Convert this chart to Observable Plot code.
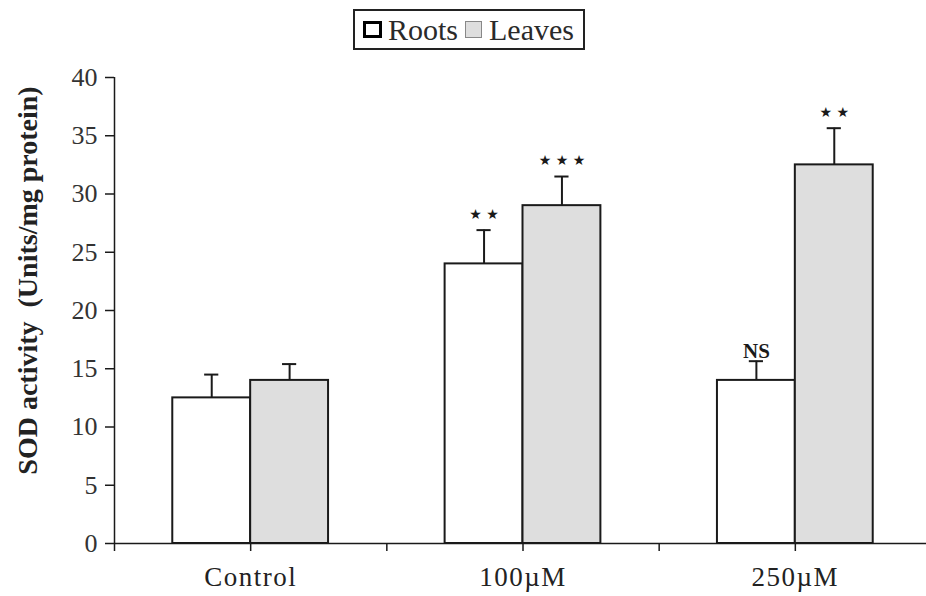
<!DOCTYPE html>
<html>
<head>
<meta charset="utf-8">
<script src="https://cdn.jsdelivr.net/npm/d3@7"></script>
<script src="https://cdn.jsdelivr.net/npm/@observablehq/plot@0.6"></script>
<style>
  html, body { margin: 0; padding: 0; background: #fff; }
  #wrap { width: 926px; }
  #legend { position: relative; width: 926px; height: 58px; }
  #legend .box {
    position: absolute; left: 353px; top: 9px; width: 228px; height: 37px;
    border: 2px solid #222; display: flex; align-items: center;
    font-family: "Liberation Serif", serif; font-size: 30px; color: #2a2a2a;
  }
  #legend .sw { display: inline-block; box-sizing: border-box; }
  #legend .roots { width: 19px; height: 17px; border: 3px solid #000; background: #fff; margin-left: 8px; margin-right: 6px; }
  #legend .leaves { width: 17px; height: 17px; border: 1.5px solid #888; background: #dedede; margin-left: 7px; margin-right: 7px; }
  g[aria-label="x-axis tick label"] text { letter-spacing: 1.5px; }
</style>
</head>
<body>
<div id="wrap">
  <div id="legend"><div class="box"><span class="sw roots"></span><span>Roots</span><span class="sw leaves"></span><span>Leaves</span></div></div>
  <div id="chart"></div>
</div>
<script>
const categories = ["Control", "100µM", "250µM"];
const series = ["Roots", "Leaves"];
const rootsMean = [12.5, 24.0, 14.0];
const leavesMean = [14.0, 29.0, 32.5];
const rootsErr = [2.0, 2.9, 1.65];
const leavesErr = [1.4, 2.5, 3.15];
const rootsSig = ["", "**", "NS"];
const leavesSig = ["", "***", "**"];
const yTicks = [0, 5, 10, 15, 20, 25, 30, 35, 40];
const yLabel = "SOD activity\u2002(Units/mg protein)";

const BW = 0.286;   // bar width as a fraction of a group
const CAP = 0.026;  // half cap width as a fraction of a group

const data = categories.flatMap((g, i) => [
  {group: g, i, series: "Roots", mean: rootsMean[i], err: rootsErr[i], sig: rootsSig[i]},
  {group: g, i, series: "Leaves", mean: leavesMean[i], err: leavesErr[i], sig: leavesSig[i]}
]);
const barX1 = d => d.i + 0.5 - (d.series === "Roots" ? BW : 0);
const barX2 = d => barX1(d) + BW;
const barXc = d => barX1(d) + BW / 2;
const errTop = d => d.mean + d.err;
const starText = s => s.split("").map(() => "\u2605").join(" ");

const ink = "#1a1a1a";

const chart = Plot.plot({
  width: 926,
  height: 538,
  marginLeft: 114,
  marginRight: -5,
  marginTop: 19,
  marginBottom: 53,
  style: {fontFamily: "Liberation Serif, serif", background: "white", overflow: "hidden"},
  x: {type: "linear", domain: [0, 3], label: null},
  y: {domain: [0, 40], label: null},
  color: {domain: series, range: ["#ffffff", "#dedede"]},
  marks: [
    Plot.rectY(data, {x1: barX1, x2: barX2, y1: 0, y2: "mean", fill: "series", stroke: ink, strokeWidth: 2}),
    Plot.ruleX(data, {x: barXc, y1: "mean", y2: errTop, stroke: ink, strokeWidth: 2}),
    Plot.ruleY(data, {y: errTop, x1: d => barXc(d) - CAP, x2: d => barXc(d) + CAP, stroke: ink, strokeWidth: 2}),
    Plot.text(data.filter(d => d.sig.startsWith("*")), {
      x: barXc, y: errTop, text: d => starText(d.sig), dy: -16, lineAnchor: "middle",
      fontFamily: "DejaVu Sans", fontSize: 14, fill: ink
    }),
    Plot.text(data.filter(d => d.sig === "NS"), {
      x: barXc, y: errTop, text: "sig", dy: -3, lineAnchor: "bottom",
      fontFamily: "Liberation Serif", fontWeight: "bold", fontSize: 21, fill: ink
    }),
    Plot.ruleX([0], {y1: 0, y2: 40, stroke: ink, strokeWidth: 1.5}),
    Plot.ruleY([0], {stroke: ink, strokeWidth: 1.5}),
    Plot.axisY({ticks: yTicks, tickSize: 9, tickPadding: 8, fontSize: 26, stroke: ink, strokeWidth: 1.5, fill: "#333", label: null}),
    Plot.axisX({ticks: [0, 1, 2, 3], tickSize: 8, tickFormat: () => "", stroke: ink, strokeWidth: 1.5, label: null}),
    Plot.axisX({ticks: [0.5, 1.5, 2.5], tickSize: 8, tickPadding: 15, tickFormat: v => categories[Math.floor(v)], fontSize: 27, stroke: ink, strokeWidth: 1.5, fill: "#222", label: null}),
    Plot.text([yLabel], {
      text: d => d, frameAnchor: "left", textAnchor: "middle", rotate: -90, dx: -86, dy: -30,
      fontWeight: "bold", fontSize: 28, fill: "#222", lineAnchor: "middle"
    })
  ]
});
document.getElementById("chart").appendChild(chart);
</script>
</body>
</html>
